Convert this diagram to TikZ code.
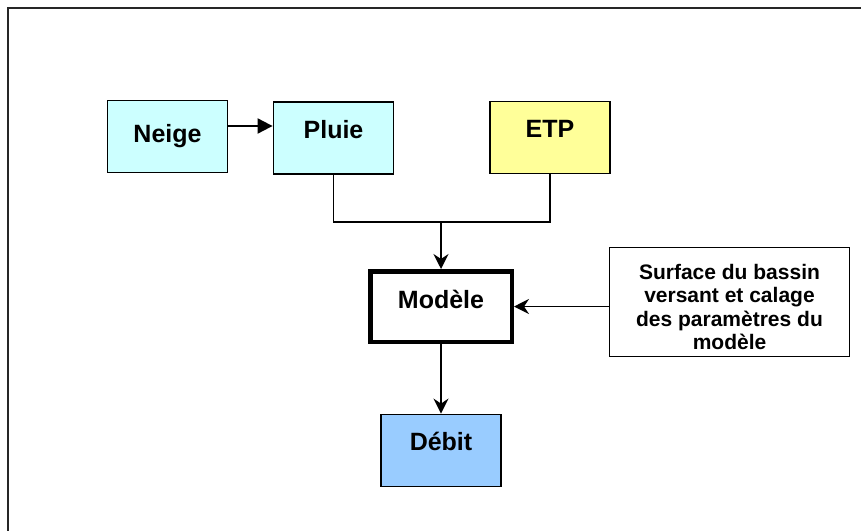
\documentclass[tikz,border=0pt]{standalone}
\usepackage{fontspec}
\setmainfont{Liberation Sans}
\usetikzlibrary{arrows.meta}
\definecolor{cyanfill}{HTML}{CCFFFF}
\definecolor{yellowfill}{HTML}{FFFF99}
\definecolor{bluefill}{HTML}{99CCFF}
\begin{document}
\begin{tikzpicture}[x=1pt,y=-1pt,
  box/.style={draw=black, line width=1.8pt, minimum width=120pt, minimum height=72pt,
    font=\bfseries\fontsize{25}{30}\selectfont, text height=16pt, text depth=16pt, inner sep=0pt},
  conn/.style={line width=1.9pt},
  arr/.style={conn, -{Stealth[length=15pt,width=15pt,inset=5pt]}},
]
\useasboundingbox (0,0) rectangle (861,530);
\fill[white] (0,0) rectangle (861,530);
% frame
\draw[line width=1.8pt, black!85] (8,531) -- (8,8) -- (862,8);

\node[box, fill=cyanfill, text height=18pt, text depth=7pt] (neige) at (167.5,136.5) {Neige};
\node[box, fill=cyanfill] (pluie) at (333.5,138) {Pluie};
\node[box, fill=yellowfill] (etp) at (550,137.5) {ETP};
\node[box, fill=white, line width=4.5pt, minimum width=141.5pt, minimum height=70.5pt,
  text height=17pt, text depth=14pt] (modele) at (441,306.5) {Modèle};
\node[box, fill=bluefill] (debit) at (441,450.5) {Débit};
\node[draw=black, line width=1.8pt, minimum width=240pt, minimum height=109pt, inner sep=0pt,
  align=center, font=\bfseries\fontsize{21}{23.5}\selectfont] (rb) at (729.5,302)
  {\rule{0pt}{25pt}Surface du bassin\\versant et calage\\des paramètres du\\modèle};

\coordinate (j) at (441,222);
\draw[conn, -{Triangle[length=15pt,width=15pt]}] ([yshift=10.5pt]neige.east) -- ([yshift=12pt]pluie.west);
\draw[conn] (pluie.south) |- (j) -| (etp.south);
\draw[arr] (j) -- (modele.north);
\draw[arr] (rb.west |- modele.east) -- (modele.east);
\draw[arr] (modele.south) -- (debit.north);
\end{tikzpicture}
\end{document}
